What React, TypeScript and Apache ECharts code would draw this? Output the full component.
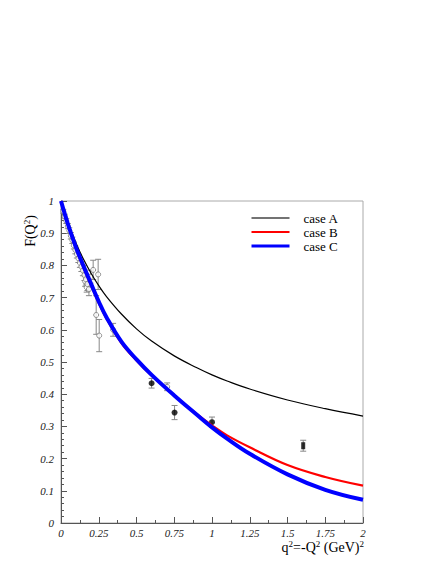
import React, { useEffect, useRef } from "react";
import * as echarts from "echarts";

// ---- data ----
const xTickLabels = ["0", "0.25", "0.5", "0.75", "1", "1.25", "1.5", "1.75", "2"];
const yTickLabels = ["0", "0.1", "0.2", "0.3", "0.4", "0.5", "0.6", "0.7", "0.8", "0.9", "1"];

const curveQ = [0, 0.025, 0.05, 0.1, 0.15, 0.2, 0.25, 0.3, 0.4, 0.5, 0.6, 0.75, 0.9, 1.0, 1.1, 1.25, 1.5, 1.75, 2.0];
const caseA = [1, 0.962, 0.928, 0.869, 0.818, 0.775, 0.737, 0.704, 0.649, 0.603, 0.565, 0.519, 0.482, 0.46, 0.441, 0.416, 0.382, 0.355, 0.332];
const caseB = [1, 0.959, 0.92, 0.851, 0.792, 0.737, 0.683, 0.636, 0.559, 0.505, 0.458, 0.396, 0.338, 0.303, 0.272, 0.235, 0.18, 0.143, 0.116];
const caseC = [1, 0.96, 0.922, 0.855, 0.797, 0.742, 0.688, 0.64, 0.563, 0.508, 0.46, 0.396, 0.336, 0.297, 0.262, 0.215, 0.151, 0.103, 0.072];

// open-circle data (q, F, error)
const openQ = [0.015, 0.025, 0.035, 0.045, 0.055, 0.065, 0.075, 0.085, 0.095, 0.105, 0.115, 0.125, 0.135, 0.145, 0.155, 0.16, 0.165, 0.17, 0.175, 0.185, 0.195, 0.213, 0.246, 0.233, 0.253, 0.345, 0.703];
const openF = [0.968, 0.952, 0.938, 0.922, 0.908, 0.892, 0.878, 0.862, 0.848, 0.835, 0.822, 0.808, 0.796, 0.784, 0.77, 0.75, 0.757, 0.732, 0.742, 0.726, 0.765, 0.786, 0.772, 0.646, 0.582, 0.6, 0.423];
const openErr = [0.006, 0.007, 0.008, 0.008, 0.009, 0.01, 0.01, 0.011, 0.012, 0.012, 0.013, 0.014, 0.015, 0.016, 0.017, 0.015, 0.018, 0.015, 0.02, 0.02, 0.02, 0.03, 0.047, 0.06, 0.05, 0.02, 0.012];

// filled-circle data
const fillQ = [0.6, 0.752, 1.0];
const fillF = [0.434, 0.343, 0.313];
const fillErr = [0.015, 0.022, 0.016];

// filled-square data
const sqQ = [1.604];
const sqF = [0.24];
const sqErr = [0.017];

const seriesNames = ["case A", "case B", "case C"];

const serif = "Liberation Serif";

export default function App() {
  const ref = useRef<HTMLDivElement>(null);

  useEffect(() => {
    if (!ref.current) return;
    const chart = echarts.init(ref.current, undefined, { renderer: "svg" });

    const errData: number[][] = [];
    openQ.forEach((q, i) => errData.push([q, openF[i], openErr[i]]));
    fillQ.forEach((q, i) => errData.push([q, fillF[i], fillErr[i]]));
    sqQ.forEach((q, i) => errData.push([q, sqF[i], sqErr[i]]));

    const line = (arr: number[]) => curveQ.map((q, i) => [q, arr[i]]);

    const supRich = {
      sup: { fontFamily: serif, fontSize: 9, lineHeight: 9, verticalAlign: "top", fill: "#000" },
    };

    const option: any = {
      animation: false,
      backgroundColor: "#fff",
      grid: {
        left: 61,
        right: 73,
        top: 201,
        bottom: 41,
        show: true,
        borderColor: "#aaa",
        borderWidth: 1,
        backgroundColor: "transparent",
      },
      legend: {
        data: [
          { name: seriesNames[0], lineStyle: { width: 1.5, color: "#444" } },
          { name: seriesNames[1], lineStyle: { width: 2, color: "#ff0000" } },
          { name: seriesNames[2], lineStyle: { width: 3, color: "#0000ff" } },
        ],
        orient: "vertical",
        left: 250,
        top: 211,
        padding: 0,
        itemWidth: 38,
        itemHeight: 14,
        itemGap: 0,
        itemStyle: { opacity: 0, color: "rgba(0,0,0,0)", borderWidth: 0 },
        textStyle: { fontFamily: serif, fontSize: 13, lineHeight: 10, color: "#000", padding: [0, 0, 4, 9] },
      },
      xAxis: {
        type: "value",
        min: 0,
        max: 2,
        interval: 0.25,
        axisLine: { show: true, lineStyle: { color: "#555", width: 1 } },
        axisTick: { show: true, inside: true, length: 6, lineStyle: { color: "#555" } },
        minorTick: { show: true, splitNumber: 2, length: 3, lineStyle: { color: "#555" } },
        splitLine: { show: false },
        axisLabel: {
          margin: 4,
          fontFamily: serif,
          fontStyle: "italic",
          fontSize: 11,
          color: "#222",
          formatter: (v: number) => xTickLabels[Math.round(v / 0.25)] ?? "",
        },
      },
      yAxis: {
        type: "value",
        min: 0,
        max: 1,
        interval: 0.1,
        axisLine: { show: true, lineStyle: { color: "#555", width: 1 } },
        axisTick: { show: true, inside: true, length: 6, lineStyle: { color: "#555" } },
        minorTick: { show: true, splitNumber: 5, length: 3, lineStyle: { color: "#555" } },
        splitLine: { show: false },
        axisLabel: {
          margin: 7,
          fontFamily: serif,
          fontStyle: "italic",
          fontSize: 11,
          color: "#222",
          formatter: (v: number) => yTickLabels[Math.round(v / 0.1)] ?? "",
        },
      },
      graphic: [
        {
          type: "text",
          x: 30,
          y: 231,
          rotation: Math.PI / 2,
          style: {
            text: "F(Q{sup|2})",
            fontFamily: serif,
            fontSize: 14,
            lineHeight: 16,
            fill: "#000",
            align: "center",
            verticalAlign: "middle",
            rich: supRich,
          },
        },
        {
          type: "text",
          x: 364,
          y: 547,
          style: {
            text: "q{sup|2}=-Q{sup|2} (GeV){sup|2}",
            fontFamily: serif,
            fontSize: 14,
            lineHeight: 16,
            fill: "#000",
            align: "right",
            verticalAlign: "middle",
            rich: supRich,
          },
        },
      ],
      series: [
        {
          type: "custom",
          name: "errors",
          data: errData,
          z: 2,
          renderItem: (params: any, api: any) => {
            const q = api.value(0);
            const f = api.value(1);
            const e = api.value(2);
            const top = api.coord([q, f + e]);
            const bot = api.coord([q, f - e]);
            const st = { stroke: "#888", lineWidth: 1 };
            return {
              type: "group",
              children: [
                { type: "line", shape: { x1: top[0], y1: top[1], x2: bot[0], y2: bot[1] }, style: st },
                { type: "line", shape: { x1: top[0] - 3, y1: top[1], x2: top[0] + 3, y2: top[1] }, style: st },
                { type: "line", shape: { x1: bot[0] - 3, y1: bot[1], x2: bot[0] + 3, y2: bot[1] }, style: st },
              ],
            };
          },
        },
        {
          type: "scatter",
          name: "open",
          data: openQ.map((q, i) => [q, openF[i]]),
          symbol: "circle",
          symbolSize: 5,
          itemStyle: { color: "#fff", borderColor: "#777", borderWidth: 1 },
          z: 3,
        },
        {
          type: "scatter",
          name: "filled",
          data: fillQ.map((q, i) => [q, fillF[i]]),
          symbol: "circle",
          symbolSize: 6,
          itemStyle: { color: "#000" },
          z: 3,
        },
        {
          type: "scatter",
          name: "square",
          data: sqQ.map((q, i) => [q, sqF[i]]),
          symbol: "rect",
          symbolSize: [4, 7],
          itemStyle: { color: "#000" },
          z: 3,
        },
        {
          type: "line",
          name: seriesNames[0],
          data: line(caseA),
          smooth: 0.4,
          symbol: "none",
          lineStyle: { color: "#000", width: 1.2 },
          itemStyle: { color: "#000" },
          z: 4,
        },
        {
          type: "line",
          name: seriesNames[1],
          data: line(caseB),
          smooth: 0.4,
          symbol: "none",
          lineStyle: { color: "#ff0000", width: 2.2 },
          itemStyle: { color: "#ff0000" },
          z: 4,
        },
        {
          type: "line",
          name: seriesNames[2],
          data: line(caseC),
          smooth: 0.4,
          symbol: "none",
          lineStyle: { color: "#0000ff", width: 4 },
          itemStyle: { color: "#0000ff" },
          z: 4,
        },
      ],
    };

    chart.setOption(option);
    return () => chart.dispose();
  }, []);

  return (
    <div
      ref={ref}
      style={{ position: "fixed", left: 0, top: 0, width: 436, height: 564, background: "#fff" }}
    />
  );
}
